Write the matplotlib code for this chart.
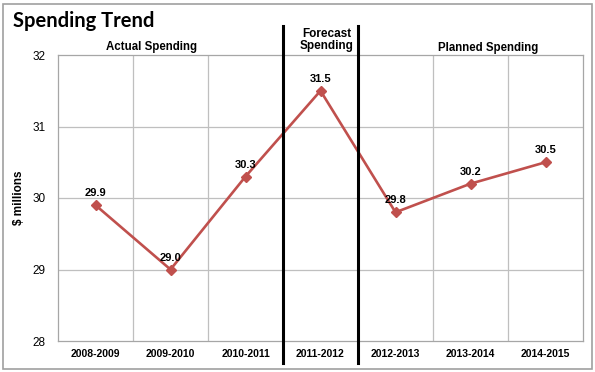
import matplotlib.pyplot as plt
import matplotlib.patches as patches
import matplotlib.transforms as transforms

YEARS = ["2008-2009", "2009-2010", "2010-2011", "2011-2012",
         "2012-2013", "2013-2014", "2014-2015"]
SPENDING = [29.9, 29.0, 30.3, 31.5, 29.8, 30.2, 30.5]
Y_TICKS = [28, 29, 30, 31, 32]

LINE_COLOR = "#C0504D"
GRID_COLOR = "#BFBFBF"

plt.rcParams["font.family"] = ["Liberation Sans", "DejaVu Sans"]

fig = plt.figure(figsize=(5.95, 3.72), dpi=100)
ax = fig.add_axes([58 / 595, 31 / 372, 525 / 595, 286 / 372])

x = list(range(len(YEARS)))
ax.plot(x, SPENDING, color=LINE_COLOR, lw=1.9, marker="D", markersize=5,
        zorder=3)
for xi, v in zip(x, SPENDING):
    ax.annotate(f"{v:.1f}", (xi, v), xytext=(0, 5), textcoords="offset points",
                ha="center", va="bottom", fontsize=8, fontweight="bold")

ax.set_xlim(-0.5, len(YEARS) - 0.5)
ax.set_ylim(28, 32)
ax.set_yticks(Y_TICKS)
ax.set_xticks(x)
ax.set_xticklabels(YEARS, fontsize=7.5, fontweight="bold")
ax.tick_params(axis="both", length=0)
ax.tick_params(axis="y", labelsize=8.5, pad=9)
ax.tick_params(axis="x", pad=6)

# gridlines at category boundaries and each y unit
for b in range(1, len(YEARS)):
    ax.axvline(b - 0.5, color=GRID_COLOR, lw=0.9, zorder=1)
for t in Y_TICKS[1:-1]:
    ax.axhline(t, color=GRID_COLOR, lw=0.9, zorder=1)
for s in ax.spines.values():
    s.set_color("#A6A6A6")
    s.set_linewidth(0.9)

ax.set_ylabel("$ millions", fontsize=8.5, fontweight="bold")
ax.yaxis.set_label_coords(-0.062, 0.5)

# forecast separators
trans = transforms.blended_transform_factory(ax.transData, ax.transAxes)
for xs in [2.5, 3.5]:
    ax.plot([xs, xs], [-0.077, 1.101], color="black", lw=2.2,
            transform=trans, clip_on=False, zorder=4)

fig.text(152 / 595, 1 - 47 / 372, "Actual Spending", ha="center",
         va="center", fontsize=8.3, fontweight="bold")
fig.text(327 / 595, 1 - 40 / 372, "Forecast\nSpending", ha="center",
         va="center", fontsize=8.5, fontweight="bold", linespacing=1.0)
fig.text(488 / 595, 1 - 48 / 372, "Planned Spending", ha="center",
         va="center", fontsize=8.3, fontweight="bold")

fig.text(13 / 595, 1 - 21 / 372, "Spending Trend", ha="left", va="center",
         fontsize=14.5, fontweight="bold", family=["Lato", "DejaVu Sans"])

fig.patches.append(patches.Rectangle((3 / 595, 3 / 372), 589 / 595, 365 / 372,
                                     transform=fig.transFigure, fill=False,
                                     edgecolor="#A0A0A0", lw=1.2))

plt.savefig("out.png", dpi=100)
